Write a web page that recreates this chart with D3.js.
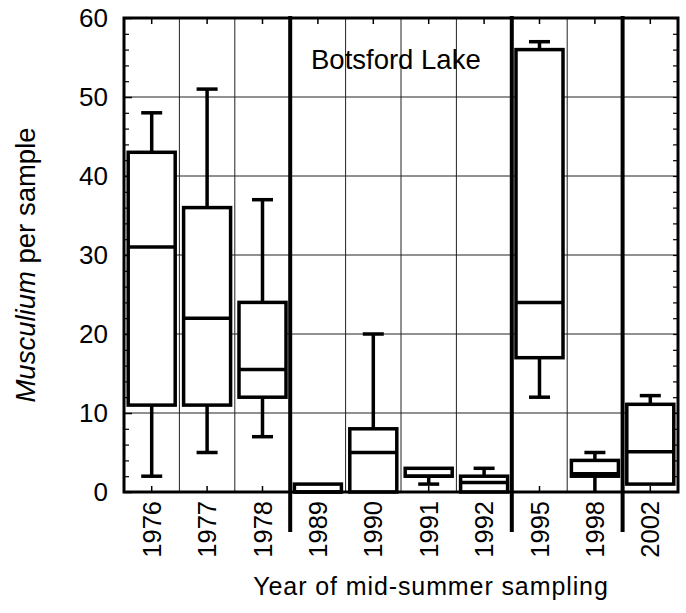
<!DOCTYPE html>
<html><head><meta charset="utf-8">
<script src="https://cdn.jsdelivr.net/npm/d3@7/dist/d3.min.js"></script>
<style>body{margin:0;background:#fff}svg{display:block}text{font-family:"Liberation Sans",Arial,sans-serif;fill:#000}</style>
</head><body><svg id="c" width="686" height="613"></svg>
<script>
const years = ["1976","1977","1978","1989","1990","1991","1992","1995","1998","2002"];
const mins    = [2, 5, 7, 0, 0, 1, 0, 12, 0, 1];
const q1s     = [11, 11, 12, 0, 0, 2, 0, 17, 2, 1];
const medians = [31, 22, 15.5, 0, 5, 2, 1.2, 24, 2.3, 5.1];
const q3s     = [43, 36, 24, 1, 8, 3, 2, 56, 4, 11.1];
const maxs    = [48, 51, 37, 1, 20, 3, 3, 57, 5, 12.2];
const yTicks  = [0, 10, 20, 30, 40, 50, 60];
const separatorsAfter = ["1978", "1992", "1998"];

const svg = d3.select("#c");
const L = 124, R = 678, T = 18, B = 492;
const x = d3.scaleBand().domain(years).range([L, R]).padding(0);
const y = d3.scaleLinear().domain([0, 60]).range([B, T]);
const bw = x.bandwidth();
const boxW = 47, capW = 21;

// grid
const g = svg.append("g");
g.selectAll(".hg").data(yTicks.slice(1, -1)).join("line")
  .attr("x1", L).attr("x2", R).attr("y1", d => y(d)).attr("y2", d => y(d))
  .attr("stroke", "#222").attr("stroke-width", 1);
g.selectAll(".vg").data(years.slice(1)).join("line")
  .attr("x1", d => x(d)).attr("x2", d => x(d)).attr("y1", T).attr("y2", B)
  .attr("stroke", "#222").attr("stroke-width", 1);

// axes ticks
const yAxL = d3.axisLeft(y).tickValues(yTicks).tickSize(-8).tickPadding(16).tickFormat(d3.format("d"));
const ax = svg.append("g").attr("transform", `translate(${L},0)`).call(yAxL);
ax.select(".domain").remove();
ax.selectAll("text").attr("font-size", 26);
ax.selectAll("line").attr("stroke-width", 1.5);
const minor = d3.range(0, 61, 2).filter(d => d % 10 !== 0);
svg.append("g").attr("transform", `translate(${L},0)`)
  .call(d3.axisLeft(y).tickValues(minor).tickSize(-5).tickFormat(""))
  .call(s => s.select(".domain").remove()).selectAll("line").attr("stroke-width", 1.2);
svg.append("g").attr("transform", `translate(${R},0)`)
  .call(d3.axisRight(y).tickValues(d3.range(0, 61, 2)).tickSize(-5).tickFormat(""))
  .call(s => s.select(".domain").remove()).selectAll("line").attr("stroke-width", 1.2);
svg.append("g").attr("transform", `translate(0,${T})`)
  .call(d3.axisTop(x).tickSize(-6).tickFormat(""))
  .call(s => s.select(".domain").remove()).selectAll("line").attr("stroke-width", 1.5);
const xb = svg.append("g").attr("transform", `translate(0,${B})`)
  .call(d3.axisBottom(x).tickSize(-6).tickPadding(10));
xb.select(".domain").remove();
xb.selectAll("line").attr("stroke-width", 1.5);
xb.selectAll("text").attr("font-size", 25.5)
  .attr("transform", "rotate(-90)").attr("text-anchor", "end")
  .attr("x", -9).attr("y", 0).attr("dy", "0.36em");

// boxes
const data = years.map((yr, i) => ({yr, min: mins[i], q1: q1s[i], med: medians[i], q3: q3s[i], max: maxs[i]}));
const bx = svg.append("g").attr("stroke", "#000").attr("stroke-width", 3.5).attr("fill", "none");
data.forEach(d => {
  const cx = x(d.yr) + bw / 2;
  const gg = bx.append("g");
  if (d.max > d.q3) {
    gg.append("line").attr("x1", cx).attr("x2", cx).attr("y1", y(d.q3)).attr("y2", y(d.max));
    gg.append("line").attr("x1", cx - capW/2).attr("x2", cx + capW/2).attr("y1", y(d.max)).attr("y2", y(d.max));
  }
  if (d.min < d.q1) {
    gg.append("line").attr("x1", cx).attr("x2", cx).attr("y1", y(d.q1)).attr("y2", y(d.min));
    if (d.min > 0) gg.append("line").attr("x1", cx - capW/2).attr("x2", cx + capW/2).attr("y1", y(d.min)).attr("y2", y(d.min));
  }
  gg.append("rect").attr("x", cx - boxW/2).attr("width", boxW)
    .attr("y", y(d.q3)).attr("height", y(d.q1) - y(d.q3)).attr("fill", "#fff");
  gg.append("line").attr("x1", cx - boxW/2).attr("x2", cx + boxW/2).attr("y1", y(d.med)).attr("y2", y(d.med));
});

// separators
svg.selectAll(".sep").data(separatorsAfter).join("line")
  .attr("x1", d => x(d) + bw).attr("x2", d => x(d) + bw)
  .attr("y1", T - 2).attr("y2", B + 40)
  .attr("stroke", "#000").attr("stroke-width", 4);

// frame
svg.append("rect").attr("x", L).attr("y", T).attr("width", R - L).attr("height", B - T)
  .attr("fill", "none").attr("stroke", "#000").attr("stroke-width", 3);

// texts
svg.append("text").attr("x", 311).attr("y", 69).attr("font-size", 27.5).text("Botsford Lake");
svg.append("text").attr("x", 431).attr("y", 595).attr("text-anchor", "middle").attr("font-size", 25)
  .attr("letter-spacing", 0.9).text("Year of mid-summer sampling");
const yt = svg.append("text").attr("transform", "translate(35,265) rotate(-90)")
  .attr("text-anchor", "middle").attr("font-size", 27.5);
yt.append("tspan").attr("font-style", "italic").text("Musculium");
yt.append("tspan").text(" per sample");
</script></body></html>
